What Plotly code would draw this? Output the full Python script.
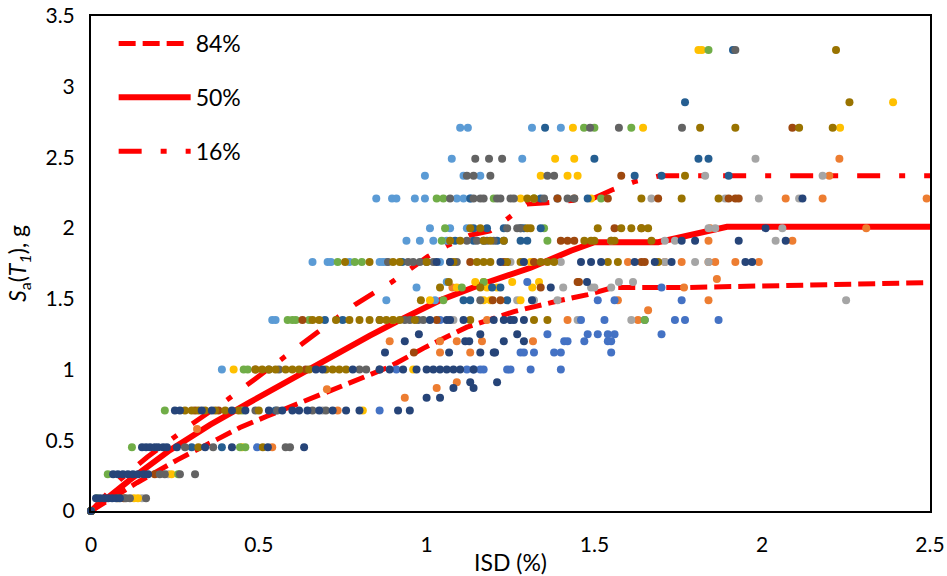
import plotly.graph_objects as go

# Percentile IDA curves: ISD (%) vs Sa(T1) (g)
isd_84 = [0, 0.137, 0.256, 0.355, 0.444, 0.524, 0.66, 0.795, 0.89, 0.99, 1.06, 1.12,
          1.26, 1.34, 1.40, 1.48, 1.555, 1.77, 2.24, 2.5]
sa_84 = [0, 0.20, 0.36, 0.48, 0.59, 0.67, 0.80, 0.93, 1.02, 1.15, 1.23, 1.30,
         1.41, 1.46, 1.49, 1.53, 1.58, 1.58, 1.60, 1.615]

isd_50 = [0, 0.116, 0.235, 0.355, 0.474, 0.593, 0.712, 0.831, 0.92, 1.04, 1.16, 1.31,
          1.43, 1.50, 1.69, 1.81, 1.895, 2.5]
sa_50 = [0, 0.22, 0.43, 0.61, 0.77, 0.93, 1.08, 1.24, 1.35, 1.49, 1.60, 1.72,
         1.84, 1.90, 1.90, 1.97, 2.01, 2.01]

isd_16 = [0, 0.086, 0.167, 0.244, 0.304, 0.408, 0.513, 0.623, 0.673, 0.787, 0.837, 0.897,
          1.004, 1.064, 1.129, 1.189, 1.243, 1.299, 1.359, 1.496, 1.552, 1.621, 1.695, 2.5]
sa_16 = [0, 0.22, 0.38, 0.52, 0.62, 0.79, 0.98, 1.17, 1.26, 1.46, 1.53, 1.62,
         1.80, 1.88, 1.95, 1.98, 2.07, 2.17, 2.18, 2.21, 2.27, 2.33, 2.37, 2.37]

# Individual record responses: (Sa level, [ISD values at that level])
rec_light_blue = [
    (0.0, [0.0]),
    (1.0, [0.39]),
    (1.35, [0.54, 0.55]),
    (1.49, [0.88, 1.025]),
    (1.58, [0.97]),
    (1.62, [1.06]),
    (1.76, [0.66, 0.705, 0.715, 0.77, 0.86, 0.87, 0.88, 1.04]),
    (1.91, [0.94, 0.98, 1.02, 1.06]),
    (2.0, [1.01, 1.07, 1.12]),
    (2.21, [0.85, 0.897, 0.91, 0.965, 0.995, 1.09, 1.11, 1.13]),
    (2.37, [0.995, 1.11, 1.16]),
    (2.49, [1.075, 1.285]),
    (2.71, [1.10, 1.123, 1.314, 1.40]),
]
rec_orange = [
    (0.0, [0.0]),
    (0.45, [0.54]),
    (0.58, [0.316]),
    (0.71, [0.735]),
    (0.80, [0.935]),
    (0.86, [0.703]),
    (0.87, [1.03]),
    (0.91, [1.09]),
    (1.12, [1.04, 1.13]),
    (1.20, [0.89, 1.04, 1.09, 1.165, 1.317]),
    (1.35, [1.18, 1.42, 1.63]),
    (1.42, [1.66]),
    (1.49, [1.57, 1.84]),
    (1.58, [1.077, 1.767]),
    (1.64, [1.865]),
    (1.76, [1.60, 1.71, 1.76, 1.84, 1.86, 1.92, 1.99]),
    (1.91, [1.84, 2.09]),
    (2.0, [1.845, 2.31]),
    (2.21, [2.07, 2.18, 2.49]),
    (2.37, [2.20]),
    (2.49, [2.23]),
]
rec_gray = [
    (0.0, [0.0]),
    (0.09, [0.152]),
    (0.26, [0.23]),
    (0.71, [0.69]),
    (1.35, [1.08, 1.45, 1.61]),
    (1.49, [1.27, 1.32, 1.39, 2.25]),
    (1.58, [1.407, 1.49, 1.50, 1.55]),
    (1.62, [1.573, 1.615]),
    (1.76, [1.25, 1.40, 1.71, 1.80, 1.84]),
    (1.91, [1.55, 1.71, 1.74, 2.04]),
    (2.0, [1.84, 1.86, 2.06]),
    (2.21, [1.67, 1.89, 1.99, 2.11]),
    (2.37, [1.83, 2.18]),
    (2.49, [1.98]),
]
rec_gold = [
    (0.0, [0.0]),
    (0.09, [0.128, 0.14]),
    (0.26, [0.24]),
    (0.45, [0.45]),
    (0.71, [0.81]),
    (1.0, [0.425, 0.96]),
    (1.35, [0.90]),
    (1.49, [1.01, 1.17, 1.19, 1.28]),
    (1.58, [1.09, 1.18, 1.21, 1.315]),
    (1.62, [1.145, 1.17, 1.255, 1.335]),
    (1.76, [1.31]),
    (2.21, [1.28, 1.32, 1.49]),
    (2.37, [1.34, 1.42, 1.45]),
    (2.49, [1.383, 1.44]),
    (2.71, [1.436, 1.645, 2.232]),
    (2.89, [2.39]),
    (3.26, [1.81, 1.82]),
]
rec_blue = [
    (0.0, [0.0]),
    (0.45, [0.495]),
    (0.71, [0.86]),
    (1.0, [0.91, 1.12, 1.14, 1.16, 1.17, 1.24, 1.25, 1.31, 1.40]),
    (1.12, [1.28, 1.29, 1.32, 1.38, 1.40, 1.55]),
    (1.20, [1.41, 1.42, 1.47, 1.54, 1.55]),
    (1.25, [1.36, 1.48, 1.51, 1.54, 1.56, 1.70]),
    (1.35, [1.04, 1.46, 1.53, 1.65, 1.74, 1.77, 1.87]),
    (1.49, [1.51, 1.56, 1.76]),
    (1.58, [1.70]),
    (1.62, [1.30]),
]
rec_green = [
    (0.0, [0.0]),
    (0.09, [0.018]),
    (0.26, [0.05, 0.26]),
    (0.45, [0.122, 0.444, 0.46]),
    (0.71, [0.22, 0.45]),
    (1.0, [0.455, 0.467]),
    (1.35, [0.586, 0.60, 0.61, 0.65, 1.65]),
    (1.49, [1.05]),
    (1.58, [1.105]),
    (1.62, [1.17]),
    (1.76, [0.735, 0.786, 0.807]),
    (1.91, [1.045, 1.36]),
    (2.0, [1.055, 1.35]),
    (2.21, [1.03, 1.05, 1.20, 1.32, 1.52]),
    (2.71, [1.469, 1.50, 1.61]),
    (3.26, [1.84]),
]
rec_steel_blue = [
    (0.0, [0.0]),
    (0.45, [0.30, 0.39]),
    (0.71, [0.55]),
    (1.35, [0.697, 0.75]),
    (1.49, [1.11, 1.13, 1.24]),
    (1.58, [1.195, 1.22]),
    (1.76, [0.927]),
    (1.91, [1.085, 1.14, 1.17, 1.21, 1.23, 1.28, 1.30]),
    (2.0, [1.14, 1.18, 1.23, 1.28, 1.29, 1.34]),
    (2.21, [1.13, 1.34, 1.39, 1.48]),
    (2.37, [1.62, 1.70, 1.90]),
    (2.49, [1.50, 1.81, 1.84]),
    (2.71, [1.353]),
    (2.89, [1.77]),
    (3.26, [1.913]),
]
rec_brown = [
    (0.0, [0.0]),
    (0.09, [0.098]),
    (0.26, [0.19]),
    (0.71, [0.31, 0.38]),
    (1.0, [0.49, 0.64]),
    (1.12, [0.962]),
    (1.35, [0.63, 1.03]),
    (1.49, [1.197, 1.22]),
    (1.58, [1.34]),
    (1.62, [1.45, 1.454]),
    (1.76, [1.13, 1.23, 1.32, 1.64, 1.65]),
    (1.91, [1.40, 1.42, 1.44]),
    (2.0, [1.56, 1.64]),
    (2.21, [1.39, 1.44, 1.54, 1.69, 1.90, 1.92, 1.93]),
    (2.37, [1.58]),
    (2.71, [2.09]),
]
rec_dark_gray = [
    (0.0, [0.0]),
    (0.09, [0.104, 0.116, 0.164]),
    (0.26, [0.205, 0.22, 0.265, 0.31]),
    (0.45, [0.28, 0.364, 0.58, 0.593]),
    (0.71, [0.49, 0.555, 0.66, 0.70]),
    (1.0, [0.53, 0.56, 0.80, 0.82, 0.86]),
    (1.35, [0.86, 0.935, 0.95, 0.975, 0.99]),
    (1.49, [1.16]),
    (1.76, [0.885, 0.945, 0.96, 0.98, 1.00, 1.02, 1.09]),
    (1.91, [1.12, 1.15, 1.18, 1.20]),
    (2.0, [1.24, 1.27, 1.28]),
    (2.21, [1.07, 1.14, 1.16, 1.17, 1.21, 1.22, 1.25, 1.26, 1.35, 1.42, 1.44]),
    (2.37, [1.12, 1.14, 1.19, 1.36, 1.38]),
    (2.49, [1.145, 1.186, 1.225]),
    (2.71, [1.487, 1.573, 1.761]),
    (3.26, [1.92]),
]
rec_olive = [
    (0.0, [0.0]),
    (0.09, [0.08]),
    (0.45, [0.32, 0.512]),
    (0.71, [0.28, 0.30, 0.32, 0.34, 0.37, 0.40, 0.44, 0.50]),
    (1.0, [0.49, 0.51, 0.53, 0.55, 0.58, 0.60, 0.62, 0.65, 0.70, 0.72, 0.74, 0.76]),
    (1.35, [0.66, 0.68, 0.73, 0.77, 0.80, 0.83, 0.86, 0.88, 0.90, 0.92, 0.965, 1.13, 1.32, 1.36]),
    (1.49, [0.983]),
    (1.58, [1.04, 1.16]),
    (1.62, [1.066]),
    (1.76, [0.757, 0.83, 0.90, 0.92, 1.00, 1.07, 1.08, 1.15, 1.17, 1.19, 1.24, 1.28,
            1.34, 1.36, 1.38, 1.54, 1.57, 1.69]),
    (1.91, [1.07, 1.10, 1.17, 1.19, 1.23, 1.47, 1.49, 1.50, 1.55, 1.56, 1.67]),
    (2.0, [1.13, 1.16, 1.30, 1.31, 1.51, 1.58, 1.61, 1.64, 1.66]),
    (2.21, [1.30, 1.32, 1.64, 1.76, 1.87]),
    (2.37, [1.77]),
    (2.71, [1.815, 1.92, 2.11, 2.21]),
    (2.89, [2.26]),
    (3.26, [2.22]),
]
rec_navy = [
    (0.0, [0.0]),
    (0.09, [0.015, 0.027, 0.039, 0.051, 0.063, 0.075, 0.086]),
    (0.26, [0.066, 0.08, 0.095, 0.11, 0.125, 0.14, 0.157, 0.17]),
    (0.45, [0.152, 0.164, 0.176, 0.19, 0.20, 0.215, 0.226, 0.256, 0.34, 0.42, 0.527, 0.635]),
    (0.71, [0.25, 0.265, 0.33, 0.36, 0.42, 0.46, 0.53, 0.57, 0.60, 0.62, 0.645, 0.68,
            0.72, 0.76, 0.80, 0.915, 0.95]),
    (0.80, [1.00, 1.04]),
    (0.87, [1.08, 1.14]),
    (0.91, [1.13, 1.21]),
    (1.0, [0.67, 0.69, 0.78, 0.86, 0.89, 0.93, 0.97, 1.00, 1.02, 1.04, 1.06, 1.08, 1.10, 1.14]),
    (1.12, [0.876, 1.067, 1.16, 1.20, 1.204]),
    (1.20, [0.935, 1.115, 1.127, 1.23, 1.29]),
    (1.25, [0.977, 1.16, 1.27]),
    (1.35, [1.01, 1.06, 1.07, 1.11, 1.20, 1.23, 1.25, 1.26, 1.29]),
    (1.49, [1.314]),
    (1.58, [1.37]),
    (1.62, [1.478]),
    (1.76, [1.03, 1.07, 1.22, 1.29, 1.46, 1.49, 1.52, 1.62, 1.68, 1.73, 1.95, 1.97]),
    (1.91, [1.76, 1.80, 1.93, 2.07]),
    (2.0, [2.01]),
    (2.21, [2.12]),
]

records = [
    (rec_light_blue, "#5B9BD5"),
    (rec_orange, "#ED7D31"),
    (rec_gray, "#A5A5A5"),
    (rec_gold, "#FFC000"),
    (rec_blue, "#4472C4"),
    (rec_green, "#70AD47"),
    (rec_steel_blue, "#255E91"),
    (rec_brown, "#9E480E"),
    (rec_dark_gray, "#636363"),
    (rec_olive, "#997300"),
    (rec_navy, "#264478"),
]

FONT = "Lato"
RED = "#FF0000"

fig = go.Figure()

# percentile curves (legend entries)
fig.add_trace(go.Scatter(x=isd_84, y=sa_84, mode="lines", name="84%", legendgroup="p84",
                         line=dict(color=RED, width=5, dash="17px,7px")))
fig.add_trace(go.Scatter(x=isd_50, y=sa_50, mode="lines", name="50%", legendgroup="p50",
                         line=dict(color=RED, width=6)))
fig.add_trace(go.Scatter(x=isd_16, y=sa_16, mode="lines", name="16%", legendgroup="p16",
                         line=dict(color=RED, width=5, dash="23px,19px,6px,19px")))

# individual record points
for rec, color in records:
    xs, ys = [], []
    for sa, isds in rec:
        for v in isds:
            xs.append(v)
            ys.append(sa)
    fig.add_trace(go.Scatter(x=xs, y=ys, mode="markers", showlegend=False,
                             cliponaxis=False, hoverinfo="x+y",
                             marker=dict(color=color, size=8, line=dict(width=0))))

axis_common = dict(
    showline=True, mirror=True, linecolor="black", linewidth=2,
    showgrid=False, zeroline=False, ticks="", automargin=False,
    tickfont=dict(family=FONT, size=21, color="black"),
)

fig.update_layout(
    width=947, height=576,
    margin=dict(l=91, r=17, t=16, b=65),
    paper_bgcolor="white", plot_bgcolor="white",
    font=dict(family=FONT, color="black"),
    xaxis=dict(range=[0, 2.5], dtick=0.5, tick0=0, ticklabelstandoff=14,
               title=dict(text="ISD (%)", font=dict(family=FONT, size=23), standoff=4),
               **axis_common),
    yaxis=dict(range=[0, 3.5], dtick=0.5, tick0=0, ticklabelstandoff=10,
               title=dict(text="<i>S</i><sub>a</sub>(<i>T</i><sub><i>1</i></sub>), g",
                          font=dict(family=FONT, size=23), standoff=12),
               **axis_common),
    legend=dict(x=0.027, y=0.988, xanchor="left", yanchor="top",
                font=dict(family=FONT, size=23, color="black"),
                bgcolor="rgba(0,0,0,0)", itemwidth=72, tracegroupgap=21,
                traceorder="grouped"),
)

fig.write_html("out.html")
